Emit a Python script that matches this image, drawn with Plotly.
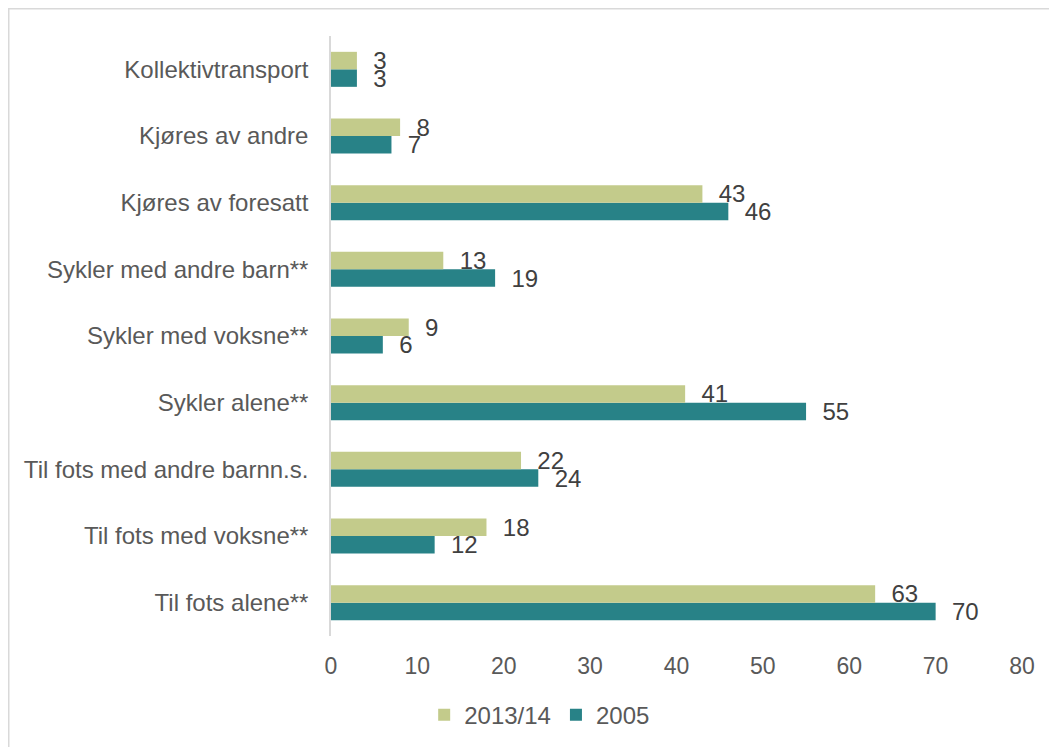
import plotly.graph_objects as go

categories = [
    "Til fots alene**",
    "Til fots med voksne**",
    "Til fots med andre barnn.s.",
    "Sykler alene**",
    "Sykler med voksne**",
    "Sykler med andre barn**",
    "Kjøres av foresatt",
    "Kjøres av andre",
    "Kollektivtransport",
]
values_2005 = [70, 12, 24, 55, 6, 19, 46, 7, 3]
values_2013 = [63, 18, 22, 41, 9, 13, 43, 8, 3]
x_ticks = [0, 10, 20, 30, 40, 50, 60, 70, 80]

GREEN = "#C3CB8B"
TEAL = "#288287"
FONT = "Liberation Sans, Arial, sans-serif"

fig = go.Figure()
fig.add_trace(go.Bar(
    name="2005", y=categories, x=values_2005, orientation="h",
    marker=dict(color=TEAL, line=dict(width=0)),
    text=values_2005, texttemplate="\u00a0\u00a0%{x}", textposition="outside",
    textfont=dict(size=24, color="#404040", family=FONT),
    cliponaxis=False, constraintext="none",
))
fig.add_trace(go.Bar(
    name="2013/14", y=categories, x=values_2013, orientation="h",
    marker=dict(color=GREEN, line=dict(width=0)),
    text=values_2013, texttemplate="\u00a0\u00a0%{x}", textposition="outside",
    textfont=dict(size=24, color="#404040", family=FONT),
    cliponaxis=False, constraintext="none",
))

fig.update_layout(
    width=1057, height=747,
    margin=dict(l=323, r=43, t=28, b=119),
    paper_bgcolor="white", plot_bgcolor="white",
    barmode="group", bargap=0.475, bargroupgap=0,
    font=dict(family=FONT, color="#595959", size=23),
    showlegend=True,
    legend=dict(
        orientation="h", traceorder="reversed",
        x=0.302, xanchor="center", y=-0.132, yanchor="middle",
        font=dict(size=24, color="#595959"),
        itemwidth=30,
    ),
    xaxis=dict(
        range=[0, 80], tickvals=x_ticks, showgrid=False, zeroline=False,
        showline=False, ticks="", tickfont=dict(size=23, color="#595959"),
        ticklabelstandoff=14,
    ),
    yaxis=dict(
        showgrid=False, zeroline=False, showline=True, linecolor="#D9D9D9",
        linewidth=1.5, ticks="", tickfont=dict(size=24, color="#595959"),
        ticklabelstandoff=16,
    ),
    shapes=[dict(
        type="rect", xref="paper", yref="paper",
        x0=-0.46635, x1=1.1, y0=-0.25, y1=1.04542,
        line=dict(color="#D9D9D9", width=1.5), fillcolor="rgba(0,0,0,0)",
        layer="below",
    )],
)

fig.write_html("out.html")
